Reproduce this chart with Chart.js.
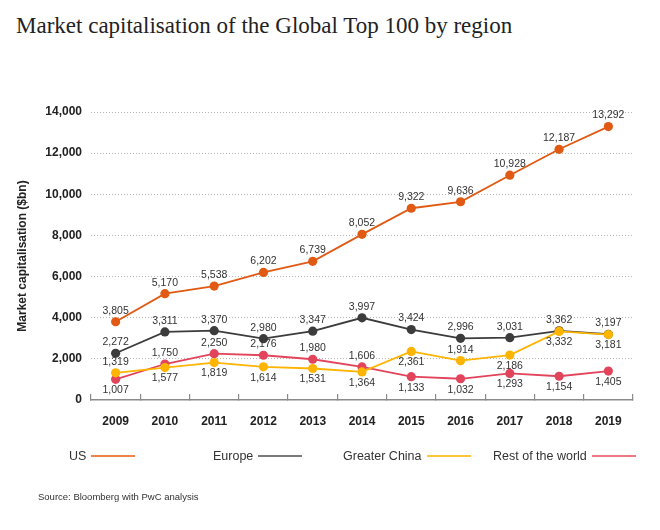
<!DOCTYPE html>
<html>
<head>
<meta charset="utf-8">
<script src="https://cdn.jsdelivr.net/npm/chart.js@4"></script>
<style>
  body { margin: 0; background: #fff; }
  #wrap { position: relative; width: 660px; height: 530px; overflow: hidden; }
  #chart { position: absolute; left: 0; top: 0; }
  .title {
    position: absolute; left: 16px; top: 14px; line-height: 23px;
    font-family: "Liberation Serif", serif; font-size: 23px; color: #222;
    white-space: nowrap;
  }
  .legend-item {
    position: absolute; top: 449px; display: flex; align-items: center;
    font-family: "Liberation Sans", Arial, sans-serif; font-size: 12.5px; color: #333;
  }
  .legend-item span.line { display: inline-block; width: 44px; height: 2.5px; margin-left: 5px; }
  .source {
    position: absolute; left: 38px; top: 491px;
    font-family: "Liberation Sans", Arial, sans-serif; font-size: 9.5px; color: #333;
  }
</style>
</head>
<body>
<div id="wrap">
  <div class="title">Market capitalisation of the Global Top 100 by region</div>
  <canvas id="chart" width="660" height="530"></canvas>
  <div id="legend"></div>
  <div class="source">Source: Bloomberg with PwC analysis</div>
</div>
<script>
const years = ["2009", "2010", "2011", "2012", "2013", "2014", "2015", "2016", "2017", "2018", "2019"];
const us = [3805, 5170, 5538, 6202, 6739, 8052, 9322, 9636, 10928, 12187, 13292];
const europe = [2272, 3311, 3370, 2980, 3347, 3997, 3424, 2996, 3031, 3362, 3197];
const greaterChina = [1319, 1577, 1819, 1614, 1531, 1364, 2361, 1914, 2186, 3332, 3181];
const restOfWorld = [1007, 1750, 2250, 2176, 1980, 1606, 1133, 1032, 1293, 1154, 1405];
const yTicks = [0, 2000, 4000, 6000, 8000, 10000, 12000, 14000];

const font = '"Liberation Sans", Arial, sans-serif';

function series(label, data, color, legendColor, order, sides) {
  return {
    label: label,
    data: data,
    borderColor: color,
    backgroundColor: color,
    pointBackgroundColor: color,
    pointBorderWidth: 0,
    pointRadius: 4.6,
    pointHoverRadius: 4.6,
    borderWidth: 1.8,
    tension: 0,
    fill: false,
    order: order,
    legendColor: legendColor,
    labelSides: sides,
  };
}

// value labels above / below each point
const valueLabels = {
  id: "valueLabels",
  afterDatasetsDraw(chart) {
    const ctx = chart.ctx;
    ctx.save();
    ctx.font = "10.5px " + font;
    ctx.fillStyle = "#333";
    ctx.textAlign = "center";
    ctx.textBaseline = "middle";
    chart.data.datasets.forEach((ds, i) => {
      chart.getDatasetMeta(i).data.forEach((pt, j) => {
        const below = ds.labelSides[j] === "b";
        ctx.fillText(ds.data[j].toLocaleString("en-US"), pt.x, below ? pt.y + 11 : pt.y - 11);
      });
    });
    ctx.restore();
  },
};

const chart = new Chart(document.getElementById("chart"), {
  type: "line",
  data: {
    labels: years,
    datasets: [
      series("US", us, "#e05a13", "#ee8248", 1, "aaaaaaaaaaa"),
      series("Europe", europe, "#3c3c3c", "#7a7a7a", 4, "aaaaaaaaaaa"),
      series("Greater China", greaterChina, "#ffb400", "#ffc53a", 2, "abbbbbbabbb"),
      series("Rest of the world", restOfWorld, "#e2445c", "#ee7886", 3, "baaaaabbbbb"),
    ],
  },
  options: {
    responsive: false,
    animation: false,
    events: [],
    layout: { padding: { top: 112, right: 27, bottom: 90, left: 0 } },
    plugins: {
      legend: { display: false },
      tooltip: { enabled: false },
    },
    scales: {
      x: {
        offset: true,
        grid: {
          offset: true,
          drawOnChartArea: false,
          drawTicks: true,
          tickLength: -6,
          color: "#8a8a8a",
          lineWidth: 1.2,
        },
        border: { display: true, color: "#8a8a8a", width: 1.5 },
        ticks: {
          padding: 20,
          color: "#222",
          font: { family: font, size: 12, weight: "bold" },
        },
        afterFit(axis) { axis.height = 40; },
      },
      y: {
        min: 0,
        max: 14000,
        afterBuildTicks(axis) { axis.ticks = yTicks.map(v => ({ value: v })); },
        grid: {
          drawTicks: false,
          color: (c) => (c.tick && c.tick.value === 0 ? "rgba(0,0,0,0)" : "#b5b5b5"),
          lineWidth: 1,
        },
        border: { display: false, dash: [1, 2] },
        ticks: {
          padding: 9,
          color: "#222",
          font: { family: font, size: 12, weight: "bold" },
          callback: (v) => v.toLocaleString("en-US"),
        },
        title: {
          display: true,
          text: "Market capitalisation ($bn)",
          color: "#222",
          font: { family: font, size: 12, weight: "bold" },
          padding: { top: 15, bottom: 0 },
        },
        afterFit(axis) { axis.width = 91; },
      },
    },
  },
  plugins: [valueLabels],
});

// legend: text followed by a line sample
const legendLeft = [69, 213, 343, 493];
const legendEl = document.getElementById("legend");
chart.data.datasets.forEach((ds, k) => {
  const item = document.createElement("div");
  item.className = "legend-item";
  item.style.left = legendLeft[k] + "px";
  item.innerHTML = "<span>" + ds.label + "</span><span class='line' style='background:" + ds.legendColor + "'></span>";
  legendEl.appendChild(item);
});
</script>
</body>
</html>
